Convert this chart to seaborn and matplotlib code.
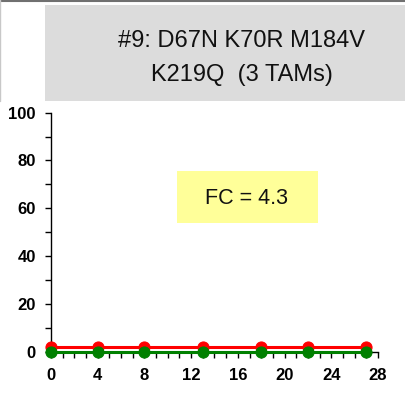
import matplotlib
matplotlib.use("Agg")
import matplotlib.pyplot as plt
import seaborn as sns
from matplotlib.patches import Rectangle
from matplotlib.ticker import MultipleLocator

# Data
days = [0, 4, 8, 13, 18, 22, 27]
red_values = [2, 2, 2, 2, 2, 2, 2]
green_values = [0, 0, 0, 0, 0, 0, 0]
title_lines = ["#9: D67N K70R M184V", "K219Q  (3 TAMs)"]
fc_label = "FC = 4.3"

sns.set_style("white")
plt.rcParams['font.family'] = ['Liberation Sans', 'DejaVu Sans']

fig = plt.figure(figsize=(4.05, 3.95), dpi=100)
ax = fig.add_axes([0.1259, 0.1096, 0.8074, 0.6051])

sns.lineplot(x=days, y=red_values, ax=ax, color="#ff0000", marker="o", markersize=8,
             markeredgecolor="#ff0000", linewidth=2.2, clip_on=False, zorder=3)
sns.lineplot(x=days, y=green_values, ax=ax, color="#008000", marker="o", markersize=8,
             markeredgecolor="#008000", linewidth=2.2, clip_on=False, zorder=4)

ax.set_xlim(0, 28)
ax.set_ylim(0, 100)
ax.xaxis.set_major_locator(MultipleLocator(4))
ax.xaxis.set_minor_locator(MultipleLocator(1))
ax.yaxis.set_major_locator(MultipleLocator(20))
ax.yaxis.set_minor_locator(MultipleLocator(10))
for s in ["top", "right"]:
    ax.spines[s].set_visible(False)
for s in ["left", "bottom"]:
    ax.spines[s].set_color("black")
    ax.spines[s].set_linewidth(1)
ax.tick_params(axis="both", which="both", direction="out", length=4, width=1,
               color="black", bottom=True, left=True)
ax.tick_params(axis="x", which="major", pad=8)
ax.tick_params(axis="y", which="major", pad=7)
for lab in ax.get_xticklabels() + ax.get_yticklabels():
    lab.set_fontweight("bold")
    lab.set_fontsize(12)
    lab.set_color("black")

# FC box
fig.text(246.7 / 405, 1 - 199 / 395, fc_label, ha="center", va="center",
         fontsize=15.5, color="#111111")
fig.patches.append(Rectangle((177 / 405, 1 - 223 / 395), 141 / 405, 52 / 395,
                             transform=fig.transFigure, facecolor="#ffff99",
                             edgecolor="none", zorder=0))

# title box
fig.patches.append(Rectangle((45 / 405, 1 - 101 / 395), 360 / 405, 96 / 395,
                             transform=fig.transFigure, facecolor="#dcdcdc",
                             edgecolor="none", zorder=0))
fig.add_artist(plt.Line2D([0, 1], [0.998, 0.998], color="#707070", linewidth=1.5,
                          transform=fig.transFigure))
fig.add_artist(plt.Line2D([0.001, 0.001], [1 - 101 / 395, 1], color="#c8c8c8",
                          linewidth=1, transform=fig.transFigure))
fig.text(242 / 405, 1 - 47 / 395, title_lines[0], ha="center", va="baseline",
         fontsize=17, color="#111111")
fig.text(242 / 405, 1 - 81 / 395, title_lines[1], ha="center", va="baseline",
         fontsize=17, color="#111111")

fig.savefig("out.png", dpi=100)
